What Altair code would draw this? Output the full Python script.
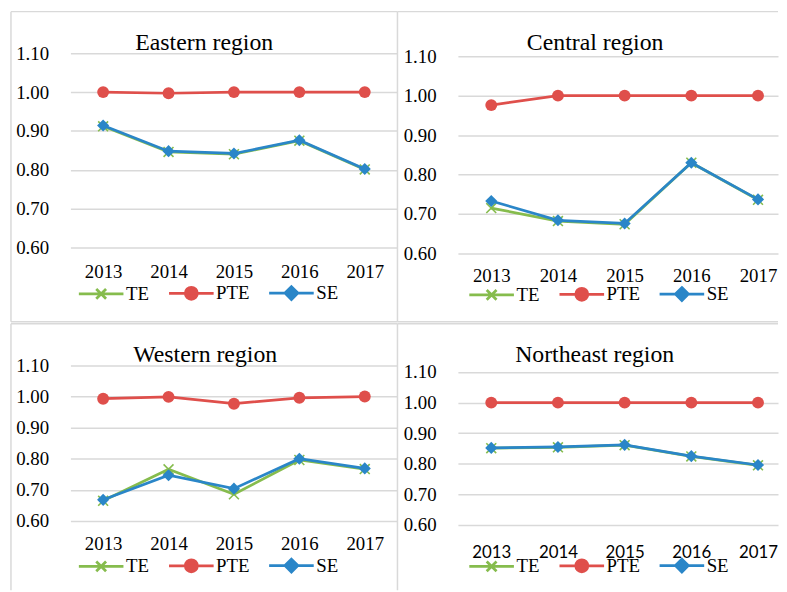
import altair as alt
import pandas as pd

years = [2013, 2014, 2015, 2016, 2017]
series = ["TE", "PTE", "SE"]
colors = ["#86bc4d", "#df4f4b", "#2a86c8"]
y_ticks = [0.6, 0.7, 0.8, 0.9, 1.0, 1.1]

east_te = [0.912, 0.846, 0.840, 0.875, 0.801]
east_pte = [1.000, 0.997, 1.000, 1.000, 1.000]
east_se = [0.914, 0.848, 0.842, 0.876, 0.802]

central_te = [0.715, 0.682, 0.674, 0.830, 0.736]
central_pte = [0.976, 1.000, 1.000, 1.000, 1.000]
central_se = [0.733, 0.684, 0.676, 0.830, 0.737]

west_te = [0.665, 0.766, 0.686, 0.796, 0.767]
west_pte = [0.993, 0.999, 0.977, 0.996, 1.000]
west_se = [0.668, 0.747, 0.704, 0.800, 0.769]

ne_te = [0.851, 0.854, 0.861, 0.824, 0.795]
ne_pte = [1.000, 1.000, 1.000, 1.000, 1.000]
ne_se = [0.852, 0.855, 0.862, 0.825, 0.796]

SERIF = "Liberation Serif"
GRID = "#d9d9d9"

X_PATH = "M-0.8,-0.8L0.8,0.8M-0.8,0.8L0.8,-0.8"
LEG_TE = "M-1,0H1M-0.22,-0.22L0.22,0.22M-0.22,0.22L0.22,-0.22"
LEG_PTE = "M-1,0H1M-0.27,0A0.27,0.27 0 1,0 0.27,0A0.27,0.27 0 1,0 -0.27,0Z"
LEG_SE = "M-1,0H1M0,-0.29L0.29,0L0,0.29L-0.29,0Z"
legend_shapes = [LEG_TE, LEG_PTE, LEG_SE]


def one_rule(**enc):
    return alt.Chart(pd.DataFrame({"k": [0]})).mark_rule(
        color=GRID, strokeWidth=1.5).encode(**enc)


def panel(te, pte, se, title, dx, ydom, w, h, xdom, xfont, xsize, xpad,
          lx, ly, borders):
    df = pd.DataFrame({
        "year": years * 3,
        "series": ["TE"] * 5 + ["PTE"] * 5 + ["SE"] * 5,
        "value": te + pte + se,
    })
    base = alt.Chart(df)
    x = alt.X("year:Q",
              scale=alt.Scale(domain=xdom, nice=False, zero=False),
              axis=alt.Axis(values=years, format="d", grid=False, domain=False,
                            ticks=False, tickSize=0, labelFont=xfont,
                            labelFontSize=xsize, labelColor="black",
                            labelPadding=xpad, title=None, labelFlush=False,
                            labelOverlap=False))
    y = alt.Y("value:Q",
              scale=alt.Scale(domain=ydom, nice=False, zero=False),
              axis=alt.Axis(values=y_ticks, format=".2f", grid=True,
                            gridColor=GRID, gridWidth=1.5, domain=False,
                            ticks=False, tickSize=0, labelFont=SERIF,
                            labelFontSize=19, labelColor="black",
                            labelPadding=22, title=None, labelFlush=False,
                            labelOverlap=False))
    legend = alt.Legend(
        orient="none", legendX=lx, legendY=ly, direction="horizontal",
        title=None, padding=0, symbolSize=2025, symbolStrokeWidth=2.75,
        symbolOpacity=1,
        labelFont=SERIF, labelFontSize=19, labelColor="black",
        labelOffset=1, columnPadding=14)
    cscale = alt.Scale(domain=series, range=colors)
    color = alt.Color("series:N", scale=cscale, legend=legend)
    layers = list(borders)
    # legend carrier (invisible points) first, so its legend styling wins
    layers.append(base.mark_point(filled=True, opacity=0, size=4).encode(
        x=x, y=y,
        color=color,
        stroke=alt.Stroke("series:N", scale=cscale, legend=legend),
        shape=alt.Shape("series:N",
                        scale=alt.Scale(domain=series, range=legend_shapes),
                        legend=legend)))
    for s, shape, filled, size in [("TE", X_PATH, False, 156),
                                   ("PTE", "circle", True, 144),
                                   ("SE", "diamond", True, 150)]:
        sub = base.transform_filter(alt.datum.series == s)
        layers.append(sub.mark_line(strokeWidth=2.75).encode(x=x, y=y, color=color))
        layers.append(sub.mark_point(shape=shape, filled=filled, size=size,
                                     opacity=1, strokeWidth=1.6)
                      .encode(x=x, y=y, color=color))
    return alt.layer(*layers).properties(
        width=w, height=h,
        title=alt.TitleParams(text=title, font=SERIF, fontSize=24,
                              fontWeight="normal", color="black",
                              anchor="middle", frame="group", orient="top",
                              offset=0, baseline="alphabetic", dx=dx, dy=63.5))


east = panel(east_te, east_pte, east_se, "Eastern region", -30, [0.6, 1.1],
             330, 196, [2012.5, 2017.5], SERIF, 19, 15, 7, 217.5, [
                 one_rule(x=alt.value(-60), x2=alt.value(330), y=alt.value(-42)),
                 one_rule(x=alt.value(-60), x2=alt.value(330), y=alt.value(271)),
                 one_rule(x=alt.value(-60), y=alt.value(-42), y2=alt.value(271)),
                 one_rule(x=alt.value(330), y=alt.value(-42), y2=alt.value(271)),
             ])
central = panel(central_te, central_pte, central_se, "Central region", -23,
                [0.6, 1.1075], 323, 202, [2012.5, 2017.3], SERIF, 19, 13,
                10, 218.5, [
                    one_rule(x=alt.value(-61), x2=alt.value(323), y=alt.value(-42)),
                    one_rule(x=alt.value(-61), x2=alt.value(323), y=alt.value(271)),
                ])
west = panel(west_te, west_pte, west_se, "Western region", -29, [0.6, 1.1],
             330, 157, [2012.5, 2017.5], SERIF, 19, 14, 7, 177.5, [
                 one_rule(x=alt.value(-60), x2=alt.value(330), y=alt.value(-42)),
                 one_rule(x=alt.value(-60), y=alt.value(-42), y2=alt.value(227)),
                 one_rule(x=alt.value(330), y=alt.value(-42), y2=alt.value(227)),
             ])
northeast = panel(ne_te, ne_pte, ne_se, "Northeast region", -23.5,
                  [0.6, 1.1217], 323, 161, [2012.5, 2017.3], "Lato", 17, 20,
                  10, 177.5, [
                      one_rule(x=alt.value(-61), x2=alt.value(323), y=alt.value(-42)),
                  ])

chart = alt.concat(east, central, west, northeast, columns=2,
                   spacing={"row": 113, "column": 61}, bounds="flush").resolve_scale(
    x="independent", y="independent", color="independent",
    stroke="independent", shape="independent"
).resolve_legend(color="independent", stroke="independent",
                 shape="independent").properties(
    padding={"left": 2, "top": 0, "right": 0, "bottom": 0}
).configure_view(stroke=None)

chart.save("out.html", embed_options={"renderer": "svg", "actions": False})
